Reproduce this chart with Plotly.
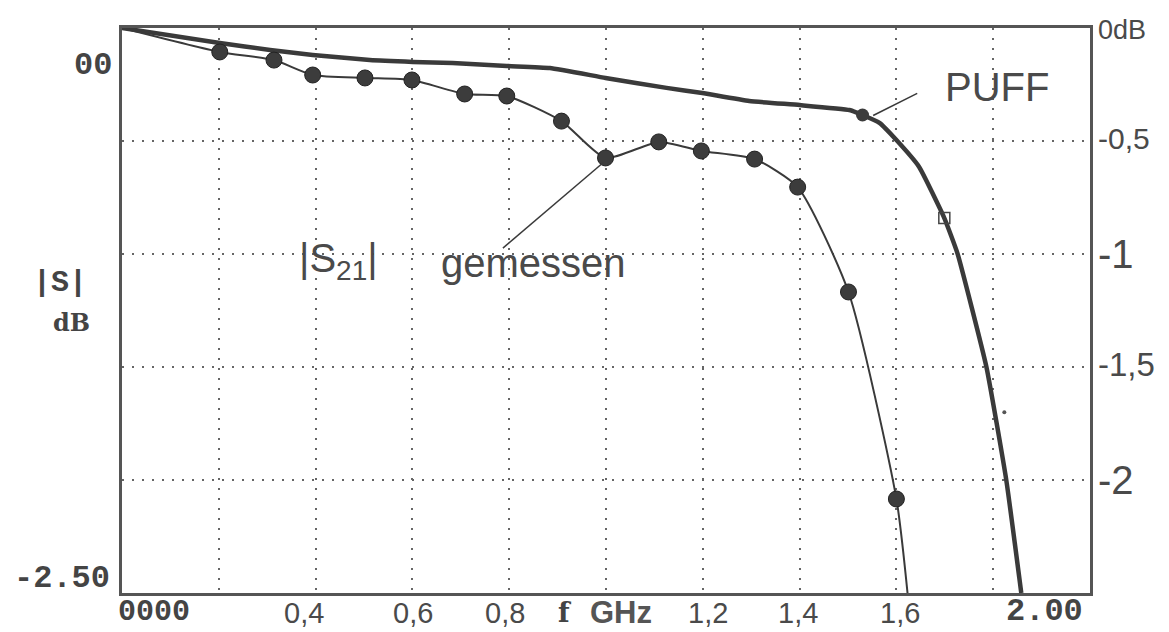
import plotly.graph_objects as go

# ---------------- data ----------------
# measured |S21| points (filled circles)
meas_f = [0.202, 0.314, 0.394, 0.502, 0.599, 0.708, 0.795, 0.908, 0.999,
          1.109, 1.197, 1.307, 1.396, 1.501, 1.600]
meas_db = [-0.106, -0.142, -0.208, -0.221, -0.230, -0.292, -0.301, -0.412,
           -0.575, -0.504, -0.544, -0.580, -0.704, -1.168, -2.084]
# measured curve end points (start at origin, runs off the bottom)
meas_start_f, meas_start_db = 0.0, 0.0
meas_end_f, meas_end_db = 1.623, -2.5

# PUFF simulation curve
puff_f = [0.0, 0.202, 0.306, 0.394, 0.512, 0.601, 0.683, 0.795, 0.884, 0.999,
          1.125, 1.199, 1.296, 1.400, 1.503, 1.530, 1.565, 1.600, 1.647, 1.699,
          1.726, 1.786, 1.827, 1.858]
puff_db = [0.0, -0.066, -0.097, -0.119, -0.142, -0.150, -0.155, -0.168, -0.177,
           -0.221, -0.265, -0.288, -0.323, -0.341, -0.363, -0.385, -0.420, -0.496,
           -0.615, -0.841, -0.996, -1.500, -2.000, -2.5]
puff_dot_f, puff_dot_db = [1.530], [-0.385]
puff_square_f, puff_square_db = [1.699], [-0.841]
puff_speck_f, puff_speck_db = [1.823], [-1.70]

# grid / labels
x_grid = [0.2, 0.4, 0.6, 0.8, 1.0, 1.2, 1.4, 1.6, 1.8]
y_grid = [-0.5, -1.0, -1.5, -2.0]
x_label_vals = [0.376, 0.602, 0.792, 1.210, 1.396, 1.608]
x_label_text = ["0,4", "0,6", "0,8", "1,2", "1,4", "1,6"]
right_label_vals = [0.0, -0.5, -1.0, -1.5, -2.0]
right_label_text = ["0dB", "-0,5", "-1", "-1,5", "-2"]
right_label_size = [27, 30, 40, 33, 40]
right_label_dy = [-0.01, 0.01, 0.0, 0.01, 0.0]

X_MIN, X_MAX = 0.0, 2.0
Y_MIN, Y_MAX = -2.5, 0.0

INK = "#3a3a3a"
HAND = "#4a4a4a"


def px(xd):
    return (xd - X_MIN) / (X_MAX - X_MIN)


def py(yd):
    return (yd - Y_MIN) / (Y_MAX - Y_MIN)


fig = go.Figure()

fig.add_trace(go.Scatter(
    x=puff_f, y=puff_db, mode="lines",
    line=dict(color=INK, width=4.5, shape="spline", smoothing=0.4),
    hoverinfo="skip", showlegend=False))

fig.add_trace(go.Scatter(
    x=[meas_start_f] + meas_f + [meas_end_f],
    y=[meas_start_db] + meas_db + [meas_end_db],
    mode="lines", line=dict(color=INK, width=2, shape="spline", smoothing=0.6),
    hoverinfo="skip", showlegend=False))

fig.add_trace(go.Scatter(
    x=meas_f, y=meas_db, mode="markers",
    marker=dict(size=16, color="#3c3c3c", line=dict(color="#222", width=1)),
    showlegend=False))

fig.add_trace(go.Scatter(
    x=puff_dot_f, y=puff_dot_db, mode="markers",
    marker=dict(size=13, color="#3c3c3c"), showlegend=False))
fig.add_trace(go.Scatter(
    x=puff_square_f, y=puff_square_db, mode="markers",
    marker=dict(size=11, symbol="square-open", color="#444", line=dict(width=1.5)),
    showlegend=False))
fig.add_trace(go.Scatter(
    x=puff_speck_f, y=puff_speck_db, mode="markers",
    marker=dict(size=4, color="#555"), showlegend=False))

# leader lines
fig.add_shape(type="line", x0=1.552, y0=-0.387, x1=1.643, y1=-0.289,
              line=dict(color=INK, width=1.5))
fig.add_shape(type="line", x0=0.787, y0=-0.974, x1=0.994, y1=-0.596,
              line=dict(color=INK, width=1.5))

ann = []


def note(xd, yd, text, size, family="Liberation Sans", color=HAND, xanchor="center"):
    ann.append(dict(x=px(xd), y=py(yd), xref="paper", yref="paper",
                    xanchor=xanchor, yanchor="middle", text=text, showarrow=False,
                    font=dict(family=family, size=size, color=color)))


# handwritten annotations
note(1.808, -0.262, "PUFF", 40)
note(0.447, -1.03, "|S<sub>21</sub>|", 40)
note(0.850, -1.042, "gemessen", 40)

# bottom handwritten labels
for xv, t in zip(x_label_vals, x_label_text):
    note(xv, -2.588, t, 29)
# right handwritten labels
for yv, t, s, dy in zip(right_label_vals, right_label_text, right_label_size, right_label_dy):
    note(2.012, yv + dy, t, s, xanchor="left")

# printed (plotter) labels
MONO = "Liberation Mono"
note(-0.060, -0.164, "<b>00</b>", 32, MONO, "#444")
note(-0.021, -2.434, "<b>-2.50</b>", 32, MONO, "#444", xanchor="right")
note(0.066, -2.586, "<b>0000</b>", 30, MONO, "#444")
note(1.905, -2.582, "<b>2.00</b>", 32, MONO, "#444")
note(-0.128, -1.128, "<b>|S|</b>", 30, MONO, "#444")
note(-0.105, -1.301, "<b>dB</b>", 24, "DejaVu Serif", "#444")
note(0.915, -2.588, "<b>f</b>", 27, "DejaVu Serif", "#444")
note(1.032, -2.586, "<b>GHz</b>", 31, "Liberation Sans", "#555")

fig.update_layout(
    width=1169, height=632,
    margin=dict(l=122, r=79, t=28, b=39),
    paper_bgcolor="white", plot_bgcolor="white",
    annotations=ann, showlegend=False,
)
fig.update_xaxes(range=[X_MIN, X_MAX], tickvals=x_grid, showticklabels=False,
                 ticks="", showgrid=True, gridcolor="#666", gridwidth=2,
                 griddash="2px,8px", zeroline=False,
                 showline=True, mirror=True, linecolor="#555", linewidth=3)
fig.update_yaxes(range=[Y_MIN, Y_MAX], tickvals=y_grid, showticklabels=False,
                 ticks="", showgrid=True, gridcolor="#666", gridwidth=2,
                 griddash="2px,8px", zeroline=False,
                 showline=True, mirror=True, linecolor="#555", linewidth=3)

fig.write_html("out.html", config={"displayModeBar": False},
               post_script="document.body.style.margin='0';document.body.style.overflow='hidden';")
